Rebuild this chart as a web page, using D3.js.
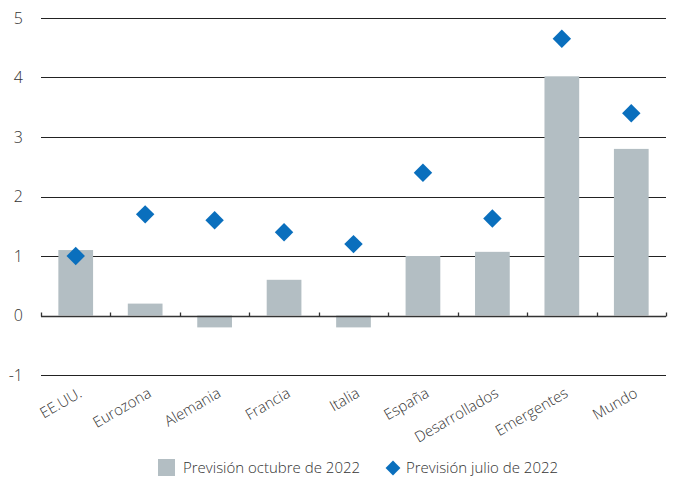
<!DOCTYPE html>
<html><head><meta charset="utf-8">
<script src="https://cdn.jsdelivr.net/npm/d3@7"></script>
<style>body{margin:0;background:#fff;} text{font-family:"Open Sans",sans-serif;fill:#333;font-weight:300;}</style>
</head><body><svg id="c" width="678" height="482"></svg>
<script>
const categories = ["EE.UU.","Eurozona","Alemania","Francia","Italia","España","Desarrollados","Emergentes","Mundo"];
const octubre2022 = [1.1, 0.2, -0.2, 0.6, -0.2, 1.0, 1.07, 4.02, 2.8];
const julio2022 = [1.0, 1.7, 1.6, 1.4, 1.2, 2.4, 1.63, 4.65, 3.4];
const yTicks = [-1, 0, 1, 2, 3, 4, 5];
const seriesNames = ["Previsión octubre de 2022", "Previsión julio de 2022"];

const svg = d3.select("#c");
const m = {l: 41, r: 12, t: 18, b: 107};
const W = 678, H = 482;
const x = d3.scaleBand().domain(categories).range([m.l, W - m.r]).padding(0);
const y = d3.scaleLinear().domain([-1, 5]).range([H - m.b, m.t]);

// gridlines
svg.append("g").selectAll("line").data(yTicks.filter(d => d !== 0)).join("line")
  .attr("x1", m.l).attr("x2", W - m.r)
  .attr("y1", d => Math.round(y(d)) + 0.5).attr("y2", d => Math.round(y(d)) + 0.5)
  .attr("stroke", "#222").attr("stroke-width", 1);

// y labels
svg.append("g").selectAll("text").data(yTicks).join("text")
  .attr("x", 23).attr("y", d => y(d)).attr("dy", "0.35em")
  .attr("text-anchor", "end").attr("font-size", 16).text(d => d);

// bars
const bw = x.bandwidth() * 0.5;
svg.append("g").selectAll("rect").data(categories).join("rect")
  .attr("x", (d) => x(d) + x.bandwidth() / 2 - bw / 2)
  .attr("width", bw)
  .attr("y", (d, i) => y(Math.max(0, octubre2022[i])))
  .attr("height", (d, i) => Math.abs(y(octubre2022[i]) - y(0)))
  .attr("fill", "#b3bec3");

// zero axis with ticks
const y0 = Math.round(y(0)) + 0.5;
const ax = svg.append("g");
ax.append("line").attr("x1", m.l).attr("x2", W - m.r).attr("y1", y0).attr("y2", y0)
  .attr("stroke", "#333").attr("stroke-width", 1.3);
const bounds = categories.map(d => x(d)).concat([x(categories[categories.length - 1]) + x.bandwidth()]);
ax.selectAll("line.t").data(bounds).join("line").attr("class", "t")
  .attr("x1", d => Math.round(d) + 0.5).attr("x2", d => Math.round(d) + 0.5)
  .attr("y1", y0).attr("y2", y0 - 4).attr("stroke", "#333").attr("stroke-width", 1.3);

// diamonds
const sym = d3.symbol().type(d3.symbolSquare).size(170);
svg.append("g").selectAll("path").data(categories).join("path")
  .attr("d", sym)
  .attr("transform", (d, i) => `translate(${x(d) + x.bandwidth() / 2},${y(julio2022[i])}) rotate(45)`)
  .attr("fill", "#0a6fbd");

// category labels
svg.append("g").selectAll("text").data(categories).join("text")
  .attr("transform", d => `translate(${x(d) + x.bandwidth() / 2 + 2},${y(-1) + 12}) rotate(-30)`)
  .attr("text-anchor", "end").attr("dy", "0.7em").attr("font-size", 15).text(d => d);

// legend
const lg = svg.append("g");
lg.append("rect").attr("x", 158).attr("y", 459).attr("width", 17).attr("height", 17).attr("fill", "#b3bec3");
lg.append("text").attr("x", 183).attr("y", 468).attr("dy", "0.35em").attr("font-size", 15).text(seriesNames[0]);
lg.append("path").attr("d", d3.symbol().type(d3.symbolSquare).size(110)).attr("transform", "translate(393,468) rotate(45)").attr("fill", "#0a6fbd");
lg.append("text").attr("x", 406).attr("y", 468).attr("dy", "0.35em").attr("font-size", 15).text(seriesNames[1]);
</script></body></html>
